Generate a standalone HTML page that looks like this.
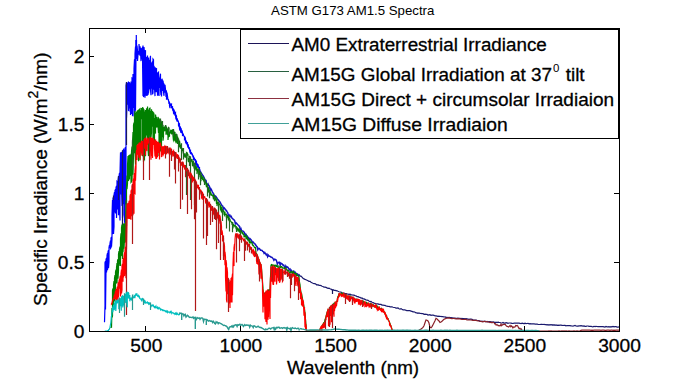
<!DOCTYPE html>
<html><head><meta charset="utf-8"><style>html,body{margin:0;padding:0;background:#fff;overflow:hidden}svg{display:block}</style></head><body><svg width="684" height="380" viewBox="0 0 684 380">
<rect x="0" y="0" width="684" height="380" fill="#fff"/>
<g fill="none" stroke-width="1.2" stroke-linejoin="miter">
<path d="M104.5,321.6 104.5,322.2 105,305.4 105,262.7 105.5,261.3 105.5,309.4 106,271.3 106,259.5 106.5,258 106.5,272.4 107,266 107,255.2 107.5,253.1 107.5,270.2 108,256.3 108,251.8 108.5,250.1 108.5,268.3 109,261.8 109,247.6 109.5,244.8 109.5,247.5 110,247.3 110,243.3 110.5,240.7 110.5,248.3 111,247.6 111,238.1 111.5,236.9 111.5,246.8 112,239.2 112,215.3 112.5,200.1 112.5,234.3 113,221 113,198.2 113.5,197.2 113.5,234 114,226.8 114,195.1 114.5,192.2 114.5,212.5 115,202.4 115,190.3 115.5,189.4 115.5,213.4 116,210.8 116,187.7 116.5,186 116.5,217.9 117,201.1 117,181.6 117.5,182.3 117.5,209.3 118,208 118,180.6 118.5,176.5 118.5,215.2 119,204.2 119,176.5 119.5,172.8 119.5,206.9 120,220.4 120,173.3 120.5,152.5 120.5,194.4 121,175.9 121,152.2 121.5,154.1 121.5,189 122,206 122,153.2 122.5,151.4 122.5,218 123,214.6 123,150.4 123.5,149.7 123.5,204.3 124,195.1 124,149.4 124.5,151.1 124.5,220.8 125,223.8 125,148.4 125.5,147.3 125.5,202.4 126,204.3 126,85.6 126.5,82.6 126.5,117.8 127,102.7 127,83 127.5,84.9 127.5,104.7 128,94 128,83 128.5,81.8 128.5,110.4 129,110.7 129,82.4 129.5,82.8 129.5,107.3 130,107.9 130,84.7 130.5,83.2 130.5,115 131,97.5 131,81.4 131.5,82.4 131.5,113.9 132,97.1 132,78 132.5,78.2 132.5,115.6 133,115.7 133,74.1 133.5,75.1 133.5,108.1 134,86.2 134,68.5 134.5,59.4 134.5,115.4 135,107.7 135,53.7 135.5,46.9 135.5,110.7 136,53 136,42.2 136.5,39.8 136.5,59 137,54 137,45.5 137.5,50.5 137.5,60.9 138,54.7 138,50.9 138.5,53 138.5,53.3 139,54.4 139,44.1 139.5,49.1 139.5,49.4 140,55.8 140,46.3 140.5,49.9 140.5,51.5 141,61.1 141,48 141.5,52.7 141.5,59 142,58.3 142,51 142.5,46.7 142.5,57.8 143,96 143,45.6 143.5,53.3 143.5,97.1 144,89.2 144,47.1 144.5,53.1 144.5,91.7 145,97.8 145,52.3 145.5,50.2 145.5,86.9 146,95.7 146,57 146.5,57.6 146.5,91.2 147,96 147,58.6 147.5,55.6 147.5,90.9 148,95.1 148,60.5 148.5,57.4 148.5,93.4 149,88.2 149,61.3 149.5,60 149.5,82.8 150,89.2 150,60.1 150.5,55.7 150.5,90 151,95.2 151,64 151.5,62.6 151.5,83.4 152,88.8 152,63.1 152.5,61.3 152.5,94.4 153,92.8 153,59 153.5,59.6 153.5,89.8 154,79.9 154,65.8 154.5,68.8 154.5,88 155,96.1 155,69.6 155.5,67.5 155.5,68.7 156,92.2 156,68.8 156.5,68.7 156.5,80.3 157,92.1 157,75.2 157.5,72.7 157.5,95.7 158,92.4 158,72.6 158.5,72.2 158.5,88.5 159,96 159,77.6 159.5,78.7 159.5,87.9 160,86.6 160,77.1 160.5,73.7 160.5,90.2 161,95.2 161,80 161.5,80.6 161.5,96.5 162,85 162,78.7 162.5,81.2 162.5,88 163,90.8 163,80.5 163.5,84.2 163.5,92.3 164,95.8 164,83.6 164.5,87.4 164.5,92.7 165,86.7 165,84.7 165.5,89.2 165.5,89.2 166,96.9 166,90.3 166.5,91.5 166.5,99.8 167,95.8 167,92.7 167.5,96.1 167.5,96.1 168,100.3 168,99 168.5,99.6 168.5,100 169,103.9 169,101.6 169.5,102.5 169.5,105.9 170,108.2 170,103.6 170.5,104.3 170.5,104.6 171,105.3 171,104.7 171.5,104.2 171.5,108.2 172,107 172,106.8 172.5,106.7 172.5,109.1 173,111 173,108.5 173.5,109.2 173.5,113.2 174,114.2 174,109.6 174.5,111.5 174.5,111.5 175,115.7 175,112.9 175.5,112.5 175.5,115.6 176,119.3 176,115 176.5,115.8 176.5,119 177,121.5 177,118.1 177.5,119.6 177.5,121.1 178,120.9 178,120.5 178.5,122 178.5,125.7 179,126.6 179,123.3 179.5,123.8 179.5,128.8 180,130.5 180,126.7 180.5,127.3 180.5,131 181,132.9 181,128.2 181.5,130.6 181.5,131.5 182,133.4 182,130.4 182.5,132.5 182.5,136.1 183,133.5 183,133.5 183.5,135.1 183.5,135.1 184,136.2 184,136.2 184.5,136.4 184.5,140.4 185,138 185,136.9 185.5,138.8 185.5,142.2 186,143.1 186,140.5 186.5,141.7 186.5,143.2 187,142.8 187,142.8 187.5,142.7 187.5,145.6 188,147.6 188,144.1 188.5,146 188.5,147.8 189,149.1 189,147.5 189.5,147.8 189.5,149.4 190,152.6 190,149.9 190.5,150 190.5,153.5 191,153.3 191,152.3 191.5,152.7 191.5,152.8 192,155.2 192,153.5 192.5,154.6 192.5,154.6 193,157.3 193,156.1 193.5,156.1 193.5,159.5 194,159.2 194,157.4 194.5,158.5 194.5,158.5 195,160.9 195,159.2 195.5,160.9 195.5,164.1 196,163.2 196,160.7 196.5,161.4 196.5,164 197,167.1 197,163.7 197.5,164.1 197.5,165.4 198,168 198,164.5 198.5,166.8 198.5,166.8 199,167.6 199,167.6 199.5,167.5 199.5,168.9 200,170.5 200,169.4M136.3,50V35M135.8,50V40" stroke="#0000ff"/>
<path d="M199,169.2 199.7,170.7 200.4,171.4 201.1,173 201.8,173.9 202.5,174.9 203.2,175.8 203.9,177.2 204.6,179 205.3,180.1 206,180.4 206.7,184.9 207.4,185.6 208.1,184 208.8,185.5 209.5,186.6 210.2,190.2 210.9,188.8 211.6,190 212.3,191.9 213,192.8 213.7,195.2 214.4,197.6 215.1,195.9 215.8,196.3 216.5,197.3 217.2,198.5 217.9,199.6 218.6,200.3 219.3,201.3 220,202 220.7,203.3 221.4,204.9 222.1,205.6 222.8,206.1 223.5,208.9 224.2,208 224.9,208.8 225.6,209.9 226.3,210.3 227,211.7 227.7,212.5 228.4,215.5 229.1,216 229.8,215 230.5,216.7 231.2,216.3 231.9,218.1 232.6,218.6 233.3,219.4 234,219.8 234.7,220.9 235.4,223.8 236.1,222.9 236.8,223.6 237.5,224.5 238.2,225 238.9,225.9 239.6,226.5 240.3,230.1 241,228.8 241.7,230.9 242.4,230.9 243.1,231.2 243.8,231.7 244.5,232.7 245.2,235.6 245.9,234.5 246.6,235.7 247.3,236 248,239.1 248.7,238 249.4,240 250.1,238.7 250.8,239.5 251.5,240.3 252.2,242.3 252.9,241.9 253.6,242.6 254.3,243.6 255,243.9 255.7,245 256.4,246.2 257.1,246.7 257.8,249.7 258.5,248.4 259.2,248.5 259.9,249.2 260.6,250.2 261.3,250.3 262,250.4 262.7,251.3 263.4,251.7 264.1,253.3 264.8,252.5 265.5,253.6 266.2,254.8 266.9,254.2 267.6,256.6 268.3,255.1 269,256 269.7,256.2 270.4,256.7 271.1,257.2 271.8,257.2 272.5,257.9 273.2,258.8 273.9,260.3 274.6,259.2 275.3,259.5 276,259.9 276.7,261.2 277.4,264.1 278.1,262.9 278.8,262.3 279.5,262.3 280.2,265.4 280.9,263.1 281.6,263.6 282.3,264.1 283,265.2 283.7,265.1 284.4,266.6 285.1,268.7 285.8,266.1 286.5,267.4 287.2,266.9 287.9,267.4 288.6,268.5 289.3,269.7 290,269.1 290.7,271.8 291.4,270.4 292.1,271.3 292.8,273.4 293.5,271.8 294.2,274 294.9,271.9 295.6,273 296.3,275.4 297,273.8 297.7,274.1 298.4,275.5 299.1,274.9 299.8,276.2" stroke="#1414c0" stroke-width="1.5"/>
<path d="M300,276.1 301,276.2 302,277.1 303,278.2 304,278.9 305,279.4 306,279.7 307,280.2 308,280.7 309,281.3 310,281.4 311,282.2 312,282.8 313,283.3 314,283.6 315,283.7 316,284.2 317,285 318,284.7 319,285.4 320,285.3 321,285.6 322,286.3 323,286.5 324,287.2 325,287.1 326,287.4 327,287.9 328,288.3 329,288.2 330,288.7 331,289.1 332,289.8 333,289.7 334,290.3 335,290.4 336,290.6 337,290.8 338,291.3 339,291.7 340,292 341,292.1 342,292.8 343,293 344,293 345,293.6 346,293.5 347,293.9 348,294.2 349,294.3 350,294.2 351,294.8 352,294.8 353,295.2 354,295.2 355,295.6 356,295.8 357,296.6 358,296.6 359,297.1 360,297.4 361,298.2 362,298 363,298.9 364,298.9 365,299.4 366,300 367,300.1 368,300.4 369,301.1 370,301.7 371,301.5 372,302.2 373,302.5 374,303.1 375,303.4 376,303.8 377,303.8 378,303.9 379,304.4 380,304.3 381,304.4 382,305.1 383,305 384,305.3 385,305.4 386,306 387,306.1 388,306.5 389,306.3 390,306.8 391,306.9 392,306.8 393,307.2 394,307.5 395,307.5 396,308.2 397,308.2 398,308 399,308.7 400,309 401,308.7 402,309.3 403,309.8 404,309.8 405,309.8 406,310.4 407,310.6 408,310.7 409,310.6 410,310.7 411,311.2 412,311.4 413,311.8 414,311.8 415,312.3 416,312.8 417,312.9 418,313.4 419,313 420,313.5 421,313.4 422,313.7 423,313.6 424,314.3 425,314.2 426,314.4 427,314.4 428,315 429,314.8 430,314.7 431,315.4 432,315.2 433,315.1 434,315.3 435,315.9 436,315.9 437,316.1 438,316.4 439,316.1 440,316.5 441,316.4 442,316.7 443,316.7 444,317 445,316.9 446,317.4 447,317.4 448,317.5 449,317.4 450,317.6 451,317.7 452,317.9 453,317.9 454,318.2 455,318.2 456,318.4 457,318.4 458,318.1 459,318.3 460,318.3 461,318.5 462,318.4 463,318.7 464,318.5 465,318.9 466,318.7 467,318.9 468,319.1 469,319.3 470,319.1 471,319.2 472,319.3 473,319.8 474,320.1 475,320.1 476,320.1 477,320.4 478,320.5 479,320.6 480,321.3 481,321.4 482,321.2 483,321.6 484,321.3 485,321.1 486,321.8 487,321.5 488,321.9 489,321.6 490,321.6 491,321.8 492,322 493,321.8 494,322.1 495,322.5 496,322.2 497,322.6 498,322.2 499,322.4 500,322.5 501,323 502,323 503,322.5 504,323.1 505,323.2 506,322.6 507,322.9 508,323.3 509,323 510,323 511,323.1 512,323.3 513,323.5 514,323.2 515,323.2 516,323 517,323.1 518,323.2 519,323.2 520,323.3 521,323.7 522,323.2 523,323.3 524,323.8 525,323.2 526,323.6 527,323.5 528,323.3 529,323.8 530,323.7 531,323.8 532,323.9 533,323.8 534,323.8 535,324.1 536,324.2 537,324 538,324.3 539,324.5 540,324.5 541,324.3 542,324.4 543,324.5 544,324.3 545,324.6 546,324.6 547,324.9 548,324.6 549,325 550,324.7 551,324.8 552,324.7 553,325.3 554,324.7 555,325.3 556,325 557,325.3 558,325.1 559,325.4 560,325.2 561,325.2 562,325.3 563,325.5 564,325.3 565,325.4 566,325.8 567,325.5 568,325.6 569,325.7 570,325.6 571,325.8 572,326 573,326.1 574,325.8 575,325.5 576,326 577,326.1 578,326.1 579,325.9 580,325.9 581,325.7 582,325.9 583,326.1 584,325.9 585,326.4 586,326.4 587,326 588,326 589,326.4 590,326.3 591,326.3 592,326.6 593,326.8 594,326.3 595,326.6 596,326.4 597,326.5 598,326.7 599,326.7 600,326.5 601,326.6 602,326.6 603,326.6 604,326.8 605,327 606,326.5 607,326.8 608,326.8 609,326.7 610,327 611,326.6 612,326.8 613,326.5 614,326.8 615,326.6 616,326.5 617,327.1 618,327.1 619,326.9" stroke="#1a1a6e"/>
<path d="M122.5,150.3V226M126.5,82V145M113.5,195.4V200M118.5,176V200M332.5,289.9V294" stroke="#181860"/>
<path d="M111,326.8 111,327.3 111.5,327.2 111.5,327.2 112,308 112,317.5 112.5,315.8 112.5,290.4 113,288.3 113,309.2 113.5,306.2 113.5,285 114,281.2 114,299.2 114.5,301.4 114.5,278.2 115,275.1 115,296.6 115.5,291.3 115.5,272.1 116,269.5 116,284 116.5,270.2 116.5,267.8 117,263.1 117,283 117.5,268.2 117.5,260.9 118,259.3 118,278.8 118.5,270.4 118.5,254.1 119,251.2 119,266 119.5,260 119.5,249.3 120,246.5 120,252.8 120.5,266 120.5,239 121,233.3 121,256.2 121.5,254.3 121.5,227.7 122,224.7 122,233.3 122.5,259 122.5,225.6 123,226.4 123,252.3 123.5,244.7 123.5,224.7 124,225.6 124,248.7 124.5,239 124.5,224.2 125,224.7 125,242.7 125.5,240.9 125.5,226 126,200 126,237 126.5,210.6 126.5,188.4 127,175.4 127,189.2 127.5,183.7 127.5,165.5 128,156.1 128,179.1 128.5,181 128.5,156.1 129,155.7 129,172.9 129.5,179.4 129.5,156.2 130,155.4 130,176.1 130.5,172.1 130.5,155.5 131,156.1 131,182.4 131.5,181.8 131.5,151.7 132,146.5 132,180.9 132.5,161 132.5,142.6 133,132 133,174.7 133.5,153.8 133.5,125.3 134,122.6 134,153.2 134.5,119.6 134.5,116.5 135,111.1 135,149.6 135.5,164.8 135.5,117.5 136,113.1 136,113.1 136.5,152.9 136.5,111.5 137,115 137,144.4 137.5,137.7 137.5,110.2 138,111.4 138,143 138.5,161.2 138.5,109.6 139,114 139,116.1 139.5,156.5 139.5,109.2 140,108.8 140,160.6 140.5,145.3 140.5,110.2 141,111.4 141,117.3 141.5,119.1 141.5,108.1 142,110.9 142,144.4 142.5,156.2 142.5,107.2 143,108.9 143,117.7 143.5,162 143.5,109 144,109.9 144,139.2 144.5,160.6 144.5,112.8 145,111.4 145,126.5 145.5,156.3 145.5,110 146,111.6 146,135.6 146.5,123.1 146.5,108.3 147,111.1 147,134.1 147.5,143.1 147.5,106.6 148,112.5 148,148.6 148.5,156.1 148.5,112.4 149,109.5 149,147.7 149.5,109.3 149.5,108.4 150,108.2 150,118.7 150.5,141 150.5,113.4 151,111 151,137.2 151.5,132.5 151.5,109.2 152,113.7 152,125.4 152.5,126.6 152.5,111.3 153,112.5 153,142.3 153.5,114.2 153.5,112.3 154,114 154,143.4 154.5,141.7 154.5,117.9 155,120.1 155,127.5 155.5,133.6 155.5,114.5 156,117.2 156,120.5 156.5,127.6 156.5,119.3 157,116.9 157,127.4 157.5,122.4 157.5,122.4 158,118.5 158,126.2 158.5,133 158.5,118 159,118.6 159,156.1 159.5,145.5 159.5,120.8 160,119.2 160,135.3 160.5,151.5 160.5,122.5 161,120.6 161,134.8 161.5,149.1 161.5,125.4 162,121.6 162,137.3 162.5,132.3 162.5,125.7 163,125.6 163,140.7 163.5,136.8 163.5,128.6 164,126.8 164,131 164.5,130.3 164.5,127.7 165,126.6 165,131.3 165.5,126.8 165.5,125.9 166,126 166,134.8 166.5,126.7 166.5,126.7 167,130.9 167,130.9 167.5,135.3 167.5,132.2 168,128.4 168,140 168.5,132.3 168.5,132.3 169,127.4 169,136.5 169.5,136.1 169.5,132.3 170,132.1 170,133.3 170.5,131.3 170.5,131 171,129.8 171,133.2 171.5,133.6 171.5,129.9 172,133.1 172,133.1 172.5,132 172.5,129.3 173,135 173,136 173.5,140.6 173.5,129.6 174,135.2 174,140.5 174.5,139.6 174.5,132.1 175,132.3 175,132.6 175.5,141.8 175.5,137.2 176,133.9 176,143.2 176.5,137.6 176.5,134.1 177,135.1 177,137 177.5,144 177.5,136.7 178,138.4 178,139.2 178.5,141.4 178.5,138.8 179,144.3 179,145.5 179.5,147.1 179.5,140.5 180,144 180,145.7 180.5,148.6 180.5,144.9 181,147.9 181,148.1 181.5,148.6 181.5,147.7 182,148.7 182,148.8 182.5,150.9 182.5,148.3 183,151.3 183,151.3 183.5,153.9 183.5,153.9 184,154.4 184,155.1 184.5,156.1 184.5,156.1 185,153.2 185,154.4 185.5,157.7 185.5,154.9 186,157.1 186,157.1 186.5,153.6 186.5,152.9 187,153.5 187,153.7 187.5,155.7 187.5,153.7 188,154.6 188,159.5 188.5,162.2 188.5,158 189,161 189,161 189.5,161.4 189.5,161.4 190,157.1 190,163.3 190.5,159 190.5,159 191,161.3 191,161.3 191.5,160.3 191.5,160.3 192,159.1 192,159.1 192.5,166 192.5,161.7 193,164.8 193,165.5 193.5,165.1 193.5,165.1 194,162.4 194,168.4 194.5,167.3 194.5,164.6 195,163.1 195,164.8 195.5,169.5 195.5,165.6 196,168 196,170.5 196.5,168.5 196.5,166.5 197,169.6 197,174.1 197.5,168.7 197.5,168.7 198,170 198,172.2 198.5,170.7 198.5,169.8 199,170.6 199,174.5 199.5,174.8 199.5,170.7 200,174.2 200,177.3 200.5,175.5 200.5,172.7 201,173.2 201,178.9 201.5,175.5 201.5,175.5 202,176.1 202,179.4 202.5,178.5 202.5,177 203,177 203,179.2 203.5,180.2 203.5,180.2 204,179.3 204,181.6 204.5,182 204.5,179.2 205,180.2 205,182.2 205.5,183.3 205.5,181.4 206,184.1 206,184.1 206.5,187.3 206.5,183 207,184 207,187 207.5,185.9 207.5,185.9 208,187.3 208,187.3 208.5,191.9 208.5,187.4 209,191.1 209,192 209.5,191.8 209.5,189.9 210,191.5 210,194.7 210.5,192.4 210.5,191.9 211,193.5 211,195.1 211.5,195 211.5,193.8 212,195.5 212,195.5 212.5,195.9 212.5,195.9 213,194.9 213,196.1 213.5,199.3 213.5,196.2 214,195.3 214,198.5 214.5,198.9 214.5,197.2 215,197.4 215,200.4 215.5,199.1 215.5,198.1 216,197.9 216,197.9 216.5,204 216.5,200.4 217,199.9 217,206.1 217.5,202.3 217.5,202.3 218,202.9 218,203.8 218.5,203.6 218.5,202.4 219,203.5 219,203.5 219.5,204.4 219.5,203.7 220,205.1 220,205.5 220.5,210.5 220.5,205.4 221,206.7 221,209 221.5,212.3 221.5,208 222,207.6 222,208.8 222.5,213.4 222.5,210.1 223,211.1 223,211.8 223.5,210.6 223.5,210.2 224,212.4 224,214.3 224.5,215.1 224.5,212.1 225,212.1 225,214.4 225.5,214.4 225.5,214.4 226,214.3 226,214.3 226.5,217.7 226.5,215.5 227,215.7 227,216.4 227.5,217.3 227.5,215.1 228,216.3 228,217.5 228.5,220.4 228.5,216.5 229,218.1 229,219.5 229.5,221.5 229.5,219.6 230,219.5 230,220.6 230.5,220.9 230.5,220.9 231,221.8 231,221.8 231.5,222.5 231.5,222.1 232,222.4 232,224.7 232.5,223.3 232.5,222.2 233,224.2 233,225.1 233.5,225.8 233.5,224.2 234,225.2 234,226.7 234.5,225.8 234.5,225.8 235,225.6 235,225.6 235.5,225.7 235.5,225.7 236,228.1 236,228.1 236.5,227.5 236.5,227.5 237,228.9 237,228.9 237.5,230.4 237.5,227.5 238,229.4 238,231.6 238.5,229.8 238.5,228.5 239,229.9 239,229.9 239.5,232 239.5,230.1 240,231 240,232.9 240.5,231.5 240.5,231.5 241,232 241,232.3 241.5,231.3 241.5,231.3 242,232.7 242,233 242.5,234 242.5,232.2 243,233.2 243,233.8 243.5,235.1 243.5,234 244,234.4 244,237.4 244.5,235.7 244.5,235.7 245,236.1 245,236.1 245.5,236.7 245.5,236.7 246,235.8 246,239 246.5,238.7 246.5,237.1 247,236.8 247,237 247.5,239 247.5,239 248,238 248,239.3 248.5,240.6 248.5,239.9 249,240.9 249,241.5 249.5,242.4 249.5,240.3 250,240.7 250,240.7 250.5,243.3 250.5,242.7 251,242.6 251,242.7 251.5,242.6 251.5,242.3 252,242.7 252,242.9 252.5,245.3 252.5,244 253,245.6 253,245.6 253.5,245.6 253.5,245.6 254,246.5 254,246.5 254.5,247.6 254.5,247.6 255,247.5 255,247.5 255.5,247.7 255.5,247.1 256,253.3 256,253.3 256.5,253.9 256.5,253.5 257,254.6 257,255.3 257.5,257.1 257.5,256.1 258,258 258,258 258.5,258.8 258.5,258.8 259,259.6 259,260.8 259.5,262.3 259.5,262.3 260,262.9 260,262.9 260.5,263.9 260.5,263.9 261,264.8 261,265.2 261.5,268.1 261.5,267.9 262,275.6 262,275.6 262.5,282.6 262.5,282.6 263,287.7 263,289 263.5,292.8 263.5,292.7 264,292.9 264,292.9 264.5,294 264.5,294 265,294.2 265,294.2 265.5,293.1 265.5,292.6 266,292.2 266,293.1 266.5,291.8 266.5,291.8 267,291.3 267,291.5 267.5,292.4 267.5,292.4 268,291.4 268,291.4 268.5,291.3 268.5,290 269,289.8 269,289.9 269.5,290.6 269.5,289.9 270,289.1 270,289.1 270.5,276.7 270.5,276.7 271,265.2 271,265.2 271.5,264.5 271.5,264.5 272,264.8 272,265.6 272.5,265.8 272.5,265.8 273,264.6 273,264.8 273.5,265.8 273.5,265 274,266.3 274,266.3 274.5,266.3 274.5,265.3 275,265.1 275,265.1 275.5,266.5 275.5,265.4 276,265.5 276,266.3 276.5,266.4 276.5,265.5 277,265.7 277,266.4 277.5,266.9 277.5,266.8 278,266.3 278,267.2 278.5,267.3 278.5,266.4 279,267.5 279,267.5 279.5,266.5 279.5,266.2 280,267.2 280,267.5 280.5,267.5 280.5,266.6 281,267 281,267 281.5,266.6 281.5,266.6 282,266.9 282,268 282.5,268 282.5,267.7 283,268.3 283,268.3 283.5,268 283.5,268 284,268.1 284,268.1 284.5,268.6 284.5,268.6 285,267.9 285,268.3 285.5,268.7 285.5,268.6 286,268.4 286,268.4 286.5,269.6 286.5,269.6 287,270.3 287,270.3 287.5,270 287.5,270 288,271 288,271 288.5,270.6 288.5,270.6 289,271.1 289,271.9 289.5,273.1 289.5,273.1 290,272.2 290,272.2 290.5,272.1 290.5,271.9 291,271.7 291,272.2 291.5,271.9 291.5,271.9 292,271.7 292,273 292.5,273.1 292.5,272.6 293,272.8 293,272.8 293.5,271.8 293.5,271.8 294,273.3 294,273.3 294.5,273.2 294.5,273.2 295,273.8 295,273.8 295.5,273.4 295.5,273.1 296,274.9 296,274.9 296.5,274 296.5,274 297,275.4 297,275.4 297.5,275.3 297.5,275.3 298,275.3 298,275.9 298.5,276.1 298.5,276.1 299,276.1 299,276.7 299.5,282.1 299.5,282.1 300,284.7 300,284.7 300.5,290.1 300.5,289.9 301,292 301,292.5 301.5,293.9 301.5,293.4 302,295.9 302,295.9 302.5,298.8 302.5,298.8 303,301.2 303,301.2 303.5,303.8 303.5,303.8 304,306.6 304,306.8 304.5,309.3 304.5,309.3 305,312.7 305,312.7 305.5,319.2 305.5,319.2 306,324.9 306,324.9 306.5,331 306.5,331 307,331 307,331 307.5,331 307.5,331 308,331 308,331 308.5,331 308.5,331 309,331 309,331 309.5,331 309.5,331 310,331 310,331 310.5,331 310.5,331 311,331 311,331 311.5,331 311.5,331 312,331 312,331 312.5,331 312.5,331 313,331 313,331 313.5,331 313.5,331 314,331 314,331 314.5,331 314.5,331 315,331 315,331 315.5,331 315.5,331 316,331 316,331 316.5,331 316.5,331 317,331 317,331 317.5,331 317.5,331 318,331 318,331 318.5,331 318.5,331 319,330.8 319,331 319.5,331 319.5,329.8 320,329 320,329.5 320.5,328.8 320.5,328.8 321,327.7 321,328.4 321.5,326.8 321.5,326.8 322,325.5 322,326.9 322.5,325.7 322.5,324.7 323,324.6 323,324.6 323.5,324 323.5,323.6 324,322.3 324,322.5 324.5,322.2 324.5,322.2 325,319.7 325,319.8 325.5,318.6 325.5,318.4 326,316.6 326,316.6 326.5,314.4 326.5,314.4 327,312.7 327,312.7 327.5,311.2 327.5,311.2 328,309.5 328,310 328.5,309.9 328.5,309.9 329,309 329,309 329.5,307.9 329.5,307.7 330,307.4 330,307.4 330.5,307.5 330.5,307.5 331,305.6 331,306 331.5,306.2 331.5,305.8 332,305.9 332,305.9 332.5,305.8 332.5,305.8 333,304.7 333,305.1 333.5,304.1 333.5,304.1 334,303.4 334,304.8 334.5,304.2 334.5,304.2 335,303.2 335,303.2 335.5,302.9 335.5,302.9 336,302.5 336,302.5 336.5,301.9 336.5,301.7 337,301.3 337,301.3 337.5,299.4 337.5,298.3 338,296.5 338,296.9 338.5,295.5 338.5,295 339,293.6 339,294.2 339.5,294.7 339.5,293.8 340,293.8 340,294.7 340.5,294.3 340.5,294.3 341,294.2 341,294.2 341.5,293.6 341.5,293.2 342,293.3 342,294.5 342.5,293.9 342.5,293.8 343,294.5 343,295.1 343.5,294.9 343.5,293.9 344,294.2 344,295.2 344.5,295.4 344.5,295.1 345,295.1 345,295.1 345.5,295.7 345.5,295.7 346,295.5 346,296.3 346.5,295.7 346.5,295.3 347,296 347,296.2 347.5,296 347.5,295.7 348,296.8 348,296.8 348.5,296.8 348.5,296 349,297.1 349,297.1 349.5,297.4 349.5,297.4 350,296.7 350,297.7 350.5,296.8 350.5,296.8 351,296.9 351,298.1 351.5,298.1 351.5,298.1 352,298.1 352,298.1 352.5,298.2 352.5,298.2 353,298.3 353,298.8 353.5,298.8 353.5,298.4 354,298.2 354,298.8 354.5,299.2 354.5,299.2 355,299.4 355,299.4 355.5,299.8 355.5,299.7 356,299.2 356,300.1 356.5,300.1 356.5,300.1 357,300.2 357,300.2 357.5,300.2 357.5,300.2 358,300.2 358,300.2 358.5,301.1 358.5,301.1 359,300.9 359,301 359.5,300.9 359.5,300.9 360,301.3 360,301.3 360.5,301.5 360.5,301.1 361,301 361,301.9 361.5,302 361.5,302 362,301.3 362,302.7 362.5,302.1 362.5,302.1 363,301.6 363,302.4 363.5,303 363.5,301.8 364,302.6 364,302.6 364.5,302.4 364.5,302.4 365,302.3 365,302.9 365.5,303.4 365.5,303.4 366,303.6 366,303.6 366.5,303.8 366.5,302.6 367,303.1 367,303.1 367.5,303.8 367.5,303.3 368,303.2 368,303.2 368.5,304.1 368.5,303.8 369,303.9 369,303.9 369.5,304.5 369.5,304.5 370,304.2 370,304.9 370.5,304.5 370.5,303.8 371,304.3 371,304.9 371.5,304.4 371.5,304.2 372,304.4 372,305 372.5,305.7 372.5,304.6 373,305.6 373,305.6 373.5,305.9 373.5,305 374,305.4 374,306 374.5,306.1 374.5,306.1 375,306 375,306.4 375.5,305.8 375.5,305.6 376,305.4 376,306.7 376.5,305.7 376.5,305.7 377,305.8 377,306.6 377.5,307.4 377.5,306.9 378,307.1 378,307.1 378.5,308 378.5,307.8 379,307.9 379,308.3 379.5,308.3 379.5,308.3 380,308.5 380,308.5 380.5,309.1 380.5,309.1 381,308.6 381,309.1 381.5,309 381.5,309 382,309.3 382,309.3 382.5,309.8 382.5,309.8 383,309.7 383,310.4 383.5,310.4 383.5,310.4 384,311.3 384,312.3 384.5,312.9 384.5,312.3 385,313 385,314.1 385.5,314.8 385.5,314.1 386,315.1 386,315.7 386.5,316.8 386.5,315.7 387,317.5 387,317.6 387.5,318.2 387.5,318.2 388,318.4 388,319.4 388.5,320.1 388.5,320.1 389,321 389,321 389.5,322.3 389.5,322.3 390,323.5 390,323.5 390.5,325 390.5,325 391,325.9 391,326.8 391.5,327.5 391.5,327.5 392,329.4 392,329.4 392.5,330.6 392.5,329.9 393,331 393,331 393.5,331 393.5,331 394,331 394,331" stroke="#008000"/>
<path d="M126.5,200V226M132.5,140V170M186.5,153V195M190.5,156.3V200M194.5,162.9V205M181.5,143.2V160M160.5,118.6V123.5M162.5,120.9V126.7M165.5,125.1V129.2M168.5,126.8V133.8M173.5,129V136M176.5,133.7V140.4M178.5,138.4V152.3M183.5,148.1V159.5M186.5,152.8V160.3M189.5,155.8V166.1M193.5,160.5V166.6M198.5,168.2V179.5M200.5,172.6V185.3M204.5,179.4V184.9M207.5,184.7V196.6M209.5,190.7V198.2M214.5,195.7V201.3M218.5,201.5V215.8M222.5,208.7V221.1M226.5,213.7V228.5M229.5,217.5V231.4M232.5,221.9V232.3M236.5,226.3V232.1M240.5,230V239.7" stroke="#246424"/>
<path d="M111.5,303.3 111.5,304 112,303.5 112,302.9 112.5,300.5 112.5,301 113,299.9 113,299 113.5,298.8 113.5,298.8 114,297.4 114,296.7 114.5,294.6 114.5,298.1 115,299.1 115,294.3 115.5,291 115.5,294.3 116,301.3 116,289.6 116.5,289.5 116.5,300 117,298.6 117,288 117.5,286.8 117.5,299 118,299.7 118,283.4 118.5,282.4 118.5,297.3 119,289.6 119,281 119.5,278.9 119.5,288.6 120,279.7 120,277.2 120.5,275.8 120.5,296.4 121,292.5 121,273.6 121.5,269.6 121.5,293.4 122,290 122,265.9 122.5,263.9 122.5,269.8 123,281.7 123,260.6 123.5,258 123.5,277.5 124,273 124,256.2 124.5,252.3 124.5,275.9 125,261.4 125,249.8 125.5,246.9 125.5,266.3 126,278.3 126,237.6 126.5,213.7 126.5,249.4 127,219.6 127,205.9 127.5,203.3 127.5,210.9 128,218.8 128,204.3 128.5,202.9 128.5,210.3 129,218.9 129,201.2 129.5,200.8 129.5,218.2 130,218.5 130,196.2 130.5,194.1 130.5,216.7 131,219.7 131,191 131.5,189.6 131.5,216.1 132,214 132,186 132.5,184.4 132.5,213 133,215.3 133,181.3 133.5,178.7 133.5,203.8 134,213.7 134,175.8 134.5,173.2 134.5,192.8 135,193.4 135,170.6 135.5,165.4 135.5,180.7 136,168.1 136,156.5 136.5,150 136.5,151.9 137,160 137,145.6 137.5,145.3 137.5,150.7 138,154.7 138,145.2 138.5,143.8 138.5,152.6 139,157.7 139,144.3 139.5,142.4 139.5,149.6 140,159.6 140,143.7 140.5,143.5 140.5,151.5 141,148.1 141,143.9 141.5,140.8 141.5,151.7 142,155.7 142,144.7 142.5,140.9 142.5,154.7 143,146.4 143,143.6 143.5,141.8 143.5,148.2 144,146.5 144,139.8 144.5,139.3 144.5,147.7 145,148.4 145,138.4 145.5,138.2 145.5,155.5 146,140.2 146,140.2 146.5,140.8 146.5,143 147,151.1 147,138.9 147.5,137.8 147.5,144.9 148,141.2 148,138.4 148.5,140.8 148.5,140.8 149,143.4 149,140.7 149.5,138.1 149.5,147.4 150,141.2 150,137.2 150.5,138.5 150.5,148.6 151,159.8 151,141.3 151.5,137.5 151.5,150.7 152,156.2 152,138 152.5,139 152.5,158 153,141.8 153,140.3 153.5,138.4 153.5,144.9 154,142.8 154,142.5 154.5,140.7 154.5,147.9 155,156.4 155,140.3 155.5,140 155.5,154.9 156,158.9 156,142.3 156.5,141.8 156.5,158.6 157,152.4 157,141.8 157.5,143.1 157.5,157.3 158,145 158,145 158.5,141.8 158.5,152.2 159,152.3 159,145.3 159.5,143.3 159.5,159.4 160,144.7 160,143.7 160.5,143.3 160.5,143.9 161,146.5 161,146.5 161.5,146.9 161.5,157 162,156 162,148.8 162.5,146.3 162.5,153.5 163,154.4 163,148.7 163.5,146.4 163.5,154.7 164,149.5 164,145.9 164.5,150 164.5,151.1 165,154 165,146.6 165.5,147.4 165.5,147.4 166,148.6 166,146 166.5,147.1 166.5,154.3 167,153.2 167,146.8 167.5,149.7 167.5,149.7 168,152.6 168,150.8 168.5,148.6 168.5,149 169,154.3 169,148.8 169.5,149.5 169.5,149.5 170,151.7 170,149.2 170.5,148.9 170.5,152.8 171,155.1 171,148.8 171.5,149.5 171.5,149.9 172,151.8 172,151.5 172.5,153.4 172.5,153.6 173,156.6 173,152 173.5,151.1 173.5,156.2 174,154.2 174,153.2 174.5,155.2 174.5,155.2 175,155 175,155 175.5,155.2 175.5,155.2 176,156.1 176,152.4 176.5,156.6 176.5,156.6 177,158.2 177,155.2 177.5,154.9 177.5,158.3 178,158.3 178,154.9 178.5,158.4 178.5,158.4 179,156.8 179,156.8 179.5,159.5 179.5,160.2 180,163.2 180,161.2 180.5,158.5 180.5,165.2 181,165.1 181,162.6 181.5,162.7 181.5,164.8 182,165.3 182,162.9 182.5,162.9 182.5,162.9 183,167.1 183,161.9 183.5,164.3 183.5,164.3 184,167.6 184,165.2 184.5,165.4 184.5,169.6 185,167.8 185,167.8 185.5,168.2 185.5,169 186,169.1 186,167.9 186.5,170.3 186.5,170.3 187,171.1 187,171.1 187.5,170.5 187.5,175.1 188,171.7 188,171.3 188.5,169.8 188.5,173.3 189,176.5 189,171.6 189.5,174 189.5,178.5 190,175 190,173.2 190.5,174.5 190.5,178.2 191,175 191,173.5 191.5,174.4 191.5,176.5 192,182 192,175.7 192.5,176.1 192.5,182.4 193,177.8 193,177.2 193.5,180.9 193.5,180.9 194,178.8 194,178.1 194.5,178.8 194.5,181.3 195,180.5 195,179.9 195.5,180.2 195.5,184.9 196,182.5 196,181 196.5,183.5 196.5,187.5 197,187.1 197,184.7 197.5,185.6 197.5,188.3 198,187.1 198,187.1 198.5,184.8 198.5,188.6 199,189.4 199,187.4 199.5,189.7 199.5,189.7 200,191.4 200,190.4 200.5,190.1 200.5,190.8 201,194.3 201,190.4 201.5,192.2 201.5,197.8 202,197.1 202,192 202.5,192.3 202.5,197.4 203,199.9 203,193.3 203.5,197.4 203.5,197.4 204,197.5 204,197.5 204.5,196.2 204.5,196.3 205,197.6 205,197.6 205.5,199.5 205.5,201.8 206,203.7 206,199.1 206.5,199.3 206.5,201.5 207,200.6 207,200.6 207.5,203.6 207.5,203.6 208,207.8 208,201.4 208.5,204.8 208.5,205.6 209,203.6 209,203.6 209.5,202.9 209.5,207.3 210,204.7 210,204 210.5,207.2 210.5,207.2 211,211 211,205.4 211.5,207.5 211.5,207.5 212,210.5 212,207.9 212.5,207.9 212.5,214.5 213,211.9 213,209.2 213.5,209.5 213.5,211.5 214,215.1 214,209.1 214.5,209.9 214.5,211.5 215,216 215,208.4 215.5,209.8 215.5,213.1 216,214.9 216,210.1 216.5,211 216.5,218.2 217,216 217,212.3 217.5,213.6 217.5,215.4 218,219.1 218,213 218.5,214.5 218.5,220.5 219,220.8 219,216.2 219.5,215.7 219.5,217.7 220,223.7 220,215.6 220.5,219.6 220.5,234.5 221,229.3 221,221.3 221.5,226.8 221.5,234.9 222,232.2 222,230.4 222.5,233.2 222.5,241.5 223,236 223,235.5 223.5,238 223.5,256.3 224,255.2 224,242.4 224.5,246 224.5,246.8 225,265.3 225,251.8 225.5,256.7 225.5,276.7 226,291.6 226,260.2 226.5,263.7 226.5,299.7 227,302.4 227,267.3 227.5,272.7 227.5,289.1 228,294.1 228,277.9 228.5,279.8 228.5,281.7 229,303.4 229,284.7 229.5,281.7 229.5,286.4 230,308 230,281.4 230.5,282.3 230.5,294.8 231,302.5 231,278.5 231.5,278 231.5,298.8 232,302.5 232,278.2 232.5,273.9 232.5,295.2 233,264.1 233,264.1 233.5,251.7 233.5,259.4 234,266.1 234,248 234.5,243.7 234.5,250.6 235,240.7 235,239.3 235.5,234.6 235.5,234.6 236,235.6 236,235.6 236.5,234.9 236.5,234.9 237,235 237,235 237.5,233.4 237.5,236.9 238,237.7 238,235.7 238.5,235.5 238.5,238.2 239,236.6 239,233.8 239.5,235.9 239.5,235.9 240,235.6 240,234.8 240.5,236.5 240.5,238.5 241,237.9 241,237.7 241.5,236.1 241.5,238.9 242,238 242,238 242.5,238.9 242.5,238.9 243,239 243,238.3 243.5,240.4 243.5,240.4 244,239.7 244,239.7 244.5,241.1 244.5,241.3 245,241.5 245,240.1 245.5,241.4 245.5,241.4 246,242.2 246,241.3 246.5,243.8 246.5,243.8 247,244.2 247,241.8 247.5,244 247.5,244 248,244.4 248,243.4 248.5,245.6 248.5,245.6 249,247.1 249,244.3 249.5,245.8 249.5,245.8 250,248.1 250,248.1 250.5,246.6 250.5,248.1 251,249.8 251,248.3 251.5,247.2 251.5,249.1 252,250.3 252,250.3 252.5,250.2 252.5,250.4 253,254.3 253,250.8 253.5,250 253.5,254 254,256.2 254,250.6 254.5,252.8 254.5,257.1 255,256 255,253.8 255.5,254.8 255.5,254.8 256,253.8 256,253.8 256.5,254.4 256.5,260.6 257,264 257,254.5 257.5,256.2 257.5,257.7 258,264.6 258,256.7 258.5,258.5 258.5,258.5 259,274.6 259,259.5 259.5,261.3 259.5,272.5 260,262.7 260,262.4 260.5,264.4 260.5,267.2 261,278.7 261,264 261.5,269.3 261.5,269.3 262,277 262,277 262.5,280.7 262.5,290.9 263,312.6 263,289.6 263.5,293.5 263.5,306.6 264,296.2 264,294.5 264.5,295 264.5,295 265,319.3 265,292.3 265.5,294.1 265.5,315.8 266,321.9 266,291.8 266.5,292.4 266.5,298.1 267,324.6 267,290.7 267.5,290.2 267.5,297.6 268,319.7 268,290.7 268.5,292.2 268.5,317.3 269,291 269,291 269.5,291 269.5,294.8 270,319.1 270,291.6 270.5,277.3 270.5,298 271,272.8 271,266.6 271.5,269.1 271.5,279.9 272,281.5 272,267 272.5,266.5 272.5,279.4 273,284.8 273,268.5 273.5,266.9 273.5,284.9 274,275.4 274,266.9 274.5,267.7 274.5,274.5 275,281.8 275,267.2 275.5,268.2 275.5,275 276,273.5 276,268.7 276.5,269.5 276.5,284.4 277,278.5 277,268.8 277.5,268.7 277.5,277.7 278,274.6 278,268.9 278.5,268.6 278.5,281.2 279,272.1 279,269.3 279.5,268.4 279.5,282.2 280,281.9 280,269.1 280.5,270.2 280.5,280 281,279.4 281,269.3 281.5,269.6 281.5,278.7 282,273.2 282,271.9 282.5,269.2 282.5,281.5 283,280.7 283,272 283.5,271.9 283.5,272.6 284,272.3 284,271.4 284.5,272 284.5,273.7 285,273.1 285,270.7 285.5,269.9 285.5,272.2 286,272.9 286,272.9 286.5,271.7 286.5,272.3 287,272.1 287,271.4 287.5,274.3 287.5,275.5 288,273.2 288,273 288.5,273.4 288.5,276.3 289,273.8 289,273.6 289.5,274.3 289.5,274.3 290,274.8 290,273.9 290.5,275.6 290.5,279 291,275.5 291,274.2 291.5,275.4 291.5,275.4 292,278 292,273.8 292.5,274.9 292.5,276.5 293,274.7 293,274.7 293.5,274.2 293.5,275.3 294,274.5 294,274.3 294.5,276.9 294.5,276.9 295,276.4 295,275.7 295.5,275.5 295.5,283.1 296,285.9 296,278.8 296.5,276.7 296.5,281.8 297,277.5 297,277.5 297.5,277.9 297.5,283.7 298,286.3 298,278.2 298.5,278.8 298.5,281 299,284.8 299,281 299.5,284.6 299.5,292.7 300,292.9 300,287.5 300.5,289.6 300.5,299.2 301,296.8 301,292.8 301.5,293.6 301.5,304.8 302,305.2 302,297.6 302.5,299.9 302.5,306.6 303,305.2 303,300.3 303.5,302.4 303.5,304.8 304,315.7 304,307.9 304.5,307.8 304.5,311.9 305,327.2 305,312.4 305.5,320.3 305.5,327.7 306,326.8 306,324.3 306.5,331 306.5,331 307,331 307,331 307.5,331 307.5,331 308,331 308,331 308.5,331 308.5,331 309,331 309,331 309.5,331 309.5,331 310,331 310,331 310.5,331 310.5,331 311,331 311,331 311.5,331 311.5,331 312,331 312,331 312.5,331 312.5,331 313,331 313,331 313.5,331 313.5,331 314,331 314,331 314.5,331 314.5,331 315,331 315,331 315.5,331 315.5,331 316,331 316,331 316.5,331 316.5,331 317,331 317,331 317.5,331 317.5,331 318,331 318,331 318.5,331 318.5,331 319,331 319,331 319.5,330.1 319.5,330.1 320,330.1 320,330.1 320.5,327.6 320.5,328.1 321,330.6 321,326.6 321.5,326.2 321.5,330.6 322,330.7 322,326.9 322.5,325.5 322.5,325.8 323,328 323,323.4 323.5,324.7 323.5,328.2 324,324.9 324,324.9 324.5,322.5 324.5,327.7 325,322.1 325,322.1 325.5,320.3 325.5,320.3 326,319.6 326,316.9 326.5,314.8 326.5,315.9 327,317.2 327,312.5 327.5,311.1 327.5,316.9 328,311.9 328,309.3 328.5,309.6 328.5,326.3 329,310.7 329,310.7 329.5,309.1 329.5,309.6 330,324.8 330,307.2 330.5,306.6 330.5,307.6 331,316 331,306.9 331.5,306.3 331.5,322.3 332,311 332,305.9 332.5,304.4 332.5,314.5 333,312.2 333,306.2 333.5,304.3 333.5,307.1 334,316.8 334,306 334.5,304.4 334.5,311.3 335,303.6 335,302.8 335.5,301.5 335.5,307.3 336,306.5 336,304.5 336.5,302.8 336.5,306 337,301.8 337,300.9 337.5,298.2 337.5,301.8 338,298.1 338,297.9 338.5,296.3 338.5,298 339,294.1 339,293 339.5,294.3 339.5,296.6 340,295.2 340,293.4 340.5,295 340.5,295 341,295 341,295 341.5,293.8 341.5,296.3 342,295.9 342,295.9 342.5,295.2 342.5,296.6 343,295.6 343,295.3 343.5,294.1 343.5,294.1 344,297.6 344,296.8 344.5,295.9 344.5,297.6 345,294.7 345,294.7 345.5,295.8 345.5,296.4 346,298.7 346,296.5 346.5,295.6 346.5,296.4 347,299.2 347,297.2 347.5,296.7 347.5,298 348,299.9 348,298.5 348.5,295.3 348.5,300.5 349,298.4 349,295.6 349.5,297.2 349.5,301 350,296.4 350,296.4 350.5,299.8 350.5,299.8 351,298.6 351,297.7 351.5,297.2 351.5,297.2 352,298.5 352,298.5 352.5,298.5 352.5,302.6 353,301 353,301 353.5,298.2 353.5,298.2 354,299.6 354,299.6 354.5,298 354.5,302.8 355,302.8 355,299.8 355.5,298.6 355.5,299.1 356,302.1 356,300.3 356.5,298.9 356.5,301.2 357,301.4 357,300.6 357.5,299.8 357.5,301.3 358,299.7 358,299.4 358.5,299.5 358.5,303.6 359,302.9 359,300.2 359.5,300 359.5,304.1 360,303.9 360,300 360.5,301.9 360.5,304.5 361,303.7 361,303.7 361.5,300.5 361.5,301.6 362,304.7 362,300.7 362.5,301.1 362.5,303.9 363,304.6 363,304.6 363.5,305 363.5,305 364,305.8 364,302.4 364.5,301.9 364.5,303.9 365,304 365,302.8 365.5,302.5 365.5,306.1 366,305.8 366,305.8 366.5,303.6 366.5,306.3 367,305.8 367,305.8 367.5,305.7 367.5,305.7 368,303.6 368,302.6 368.5,303.7 368.5,304.8 369,306.5 369,306.5 369.5,305.1 369.5,305.1 370,307.5 370,303.3 370.5,306.7 370.5,306.7 371,306.6 371,306.6 371.5,305.8 371.5,307.6 372,305.8 372,305.8 372.5,303.8 372.5,305.9 373,305.9 373,305.9 373.5,306 373.5,306 374,306.4 374,304.9 374.5,305.9 374.5,307.5 375,305.8 375,305.1 375.5,307.3 375.5,307.3 376,307.6 376,305.1 376.5,306 376.5,307.6 377,309.5 377,309 377.5,308.4 377.5,309.6 378,308.7 378,308.7 378.5,309.7 378.5,309.7 379,308.5 379,306.9 379.5,307 379.5,309.2 380,308.8 380,308.8 380.5,310 380.5,310 381,309.2 381,309.2 381.5,311.6 381.5,311.6 382,311.5 382,309.4 382.5,309.4 382.5,312.3 383,309.2 383,309.1 383.5,309.4 383.5,311.9 384,312.4 384,311.8 384.5,312.7 384.5,314.2 385,312.6 385,312.6 385.5,313.6 385.5,315.6 386,316.8 386,316.8 386.5,314.8 386.5,318.3 387,319.1 387,319.1 387.5,318.1 387.5,318.1 388,318.9 388,318.9 388.5,320.5 388.5,320.5 389,321.3 389,321.3 389.5,322.3 389.5,324.7 390,325.9 390,323.7 390.5,325.6 390.5,325.6 391,327.1 391,325.5 391.5,328.3 391.5,328.3 392,329.7 392,329.7 392.5,330.2 392.5,330.3 393,331 393,331 393.5,331 393.5,331 394,331 394,331" stroke="#ff0000"/>
<path d="M393,330.3 394,331.2 395,331.1 396,331 397,330.8 398,330.8 399,330.7 400,331.1 401,331 402,330.9 403,331.2 404,331.1 405,331.3 406,331.2 407,331 408,330.9 409,331 410,331.1 411,331.1 412,330.8 413,331.2 414,330.8 415,330.7 416,331 417,330.9 418,330.9 419,330.5 420,329.4 421,329 422,328.3 423,327.4 424,325.7 425,322.7 426,319.9 427,320.2 428,320.9 429,323 430,327.3 431,327.8 432,326.6 433,324.7 434,322.7 435,320.8 436,318.3 437,318.9 438,320 439,321 440,322.5 441,322 442,321.3 443,320.2 444,319.3 445,318.9 446,318.3 447,318.2 448,318.1 449,317.9 450,318.1 451,318.5 452,318.7 453,318.5 454,318.4 455,318.7 456,318.9 457,318.8 458,318.7 459,318.9 460,318.9 461,319.2 462,319.4 463,319.5 464,319.5 465,319.4 466,319.4 467,320 468,320 469,320 470,319.9 471,320 472,320.1 473,320.3 474,320.4 475,320.4 476,320.4 477,320.7 478,320.9 479,321 480,321.2 481,321.5 482,321.6 483,321.8 484,321.3 485,321.6 486,321.6 487,321.7 488,322 489,322 490,322.5 491,322.2 492,322.8 493,322.3 494,322.5M494,323.2 494.7,323.8 495.4,323.6 496.1,325.1 496.8,324.9 497.5,324.9 498.2,325.7 498.9,325.4 499.6,325.8 500.3,325.7 501,324.2 501.7,325.7 502.4,324.8 503.1,324.2 503.8,324.7 504.5,324.5 505.2,324.3 505.9,325.5 506.6,326.3 507.3,326.4 508,326.7 508.7,327 509.4,326.1 510.1,325.5 510.8,326.7 511.5,325.9 512.2,326.7 512.9,327.9 513.6,326.9 514.3,327.2 515,327 515.7,325.5 516.4,325.8 517.1,325.4 517.8,326.1 518.5,327.7 519.2,328.7 519.9,328.3 520.6,329.1 521.3,329 522,330.6M522,330.6 523,331.1 524,330.9 525,331 526,331.1 527,331.1 528,330.9 529,331 530,331.1 531,331 532,331.1 533,331.1 534,331 535,331 536,331 537,330.9 538,331 539,331.1 540,331 541,331 542,331.1 543,331.1 544,331.1 545,331 546,331 547,331.1 548,331 549,330.9 550,331 551,330.9 552,331 553,331 554,331 555,331 556,331 557,331 558,331 559,330.9 560,331 561,331 562,330.9 563,331 564,330.9 565,331 566,330.9 567,331.1 568,331 569,330.9 570,331 571,331.1 572,331.1 573,331.1 574,330.9 575,331.1 576,331 577,330.9 578,331 579,331.1 580,331 581,330.3 582,330.2 583,330.2 584,330.1 585,330.2 586,330.2 587,330.1 588,330.1 589,330.1 590,330.2 591,330.3 592,330.2 593,330.3 594,330.1 595,330.1 596,330.2 597,330.2 598,330.1 599,330.1 600,330.2 601,330.3 602,330.2 603,330.2 604,330.2 605,330.3 606,330.3 607,330.2 608,330.2 609,330.2 610,330.3 611,330.2 612,330.2 613,330.3 614,330.2 615,330.3 616,330.1 617,330.1 618,330.2 619,330.1" stroke="#8a2028"/>
<path d="M241.5,235.5V242.7M247.5,241.8V248M329.5,307.1V327M345.5,293.8V304M352.5,296.6V305M362.5,300.6V307M371.5,303.3V309M332.5,303.8V322M349.5,295.6V302M291.5,273.6V282M298.5,277.2V300M126.5,211.2V315M132.5,184.1V244M143.5,139.7V180M149.5,137V180M175.5,151.9V183.5M180.5,158.7V209M187.5,167.7V214M195.5,179.9V311M206.5,198.1V245M207.5,199.6V236M212.5,206V222M215.5,208.7V220M220.5,219.4V260M223.5,235.6V260M228.5,278.3V312M290.5,273.6V298.3M325.5,318.5V329M332.5,304.3V328M165.5,145.8V158.6M167.5,146.1V152.9M169.5,147.4V176.8M171.5,148.9V161M174.5,151.2V169.4M178.5,155.3V171.4M180.5,158.7V180.3M182.5,161.5V199.7M185.5,165V177.3M188.5,169.7V176.1M191.5,174.4V209.3M194.5,178V219.2M196.5,182.2V212.5M199.5,187V199.8M201.5,190.8V195.8M203.5,194.1V238.4M206.5,198.8V213.8M210.5,203.7V224.9M214.5,207.6V218.9M216.5,209.7V249.2M218.5,211.6V242.9M236.5,233.3V262.5M239.5,234.4V251.2M241.5,236V241M244.5,238.6V261.1M245.5,240.5V250.8M247.5,242.4V250.4M249.5,244.1V252.5M251.5,247.2V253.6M255.5,251.3V256.5M257.5,254.7V261.9M259.5,261V281.4M272.5,266.2V280.6M275.5,267.2V272.7M279.5,268.1V280.2M282.5,268.8V281.2M285.5,269.4V274.7M287.5,271.2V277M289.5,273.2V278.7M291.5,273.6V285M294.5,274.3V291.3M298.5,277.3V282.7" stroke="#b01818"/>
<path d="M104.8,331 104.8,331 105.3,331 105.3,331 105.8,331 105.8,331 106.3,331 106.3,331 106.8,331 106.8,331 107.3,331 107.3,331 107.8,330.7 107.8,330.7 108.3,331 108.3,331 108.8,329.4 108.8,329.6 109.3,329.3 109.3,329.3 109.8,327.9 109.8,327.9 110.3,325.5 110.3,325.4 110.8,323 110.8,323.2 111.3,317.9 111.3,317.1 111.8,314.6 111.8,314.6 112.3,309.9 112.3,309 112.8,306.9 112.8,312.2 113.3,306.2 113.3,306.2 113.8,305 113.8,310.3 114.3,304.1 114.3,302.5 114.8,304 114.8,308.6 115.3,307.8 115.3,301.1 115.8,300.9 115.8,310.9 116.3,302.6 116.3,301.7 116.8,302.4 116.8,302.4 117.3,300.3 117.3,300.3 117.8,301.6 117.8,302.1 118.3,301.4 118.3,300.6 118.8,300.1 118.8,309.2 119.3,306.6 119.3,300 119.8,299.5 119.8,306.2 120.3,300.4 120.3,299.6 120.8,298.8 120.8,302.8 121.3,310.7 121.3,299.6 121.8,296.2 121.8,300.4 122.3,306.3 122.3,298.4 122.8,295.2 122.8,307.5 123.3,303.9 123.3,298.4 123.8,296.1 123.8,305.4 124.3,300.9 124.3,297.5 124.8,295 124.8,299.2 125.3,303.1 125.3,295.6 125.8,293.8 125.8,301.6 126.3,300.1 126.3,292.2 126.8,295.2 126.8,303.6 127.3,307.3 127.3,292.5 127.8,293.3 127.8,298.3 128.3,296.5 128.3,292.3 128.8,293.8 128.8,297.9 129.3,298.3 129.3,296.7 129.8,295.1 129.8,301.3 130.3,298.4 130.3,298 130.8,298.1 130.8,298.7 131.3,299.7 131.3,297.5 131.8,298.5 131.8,300.1 132.3,300.1 132.3,296.9 132.8,296.2 132.8,297.2 133.3,297.8 133.3,297.8 133.8,297.1 133.8,297.1 134.3,297.3 134.3,297.3 134.8,294.8 134.8,298.2 135.3,295.4 135.3,295.4 135.8,294.4 135.8,294.4 136.3,295.8 136.3,293.9 136.8,293.8 136.8,293.9 137.3,295.6 137.3,295.5 137.8,295.7 137.8,297 138.3,295.6 138.3,295.6 138.8,296.7 138.8,296.7 139.3,296.3 139.3,296.3 139.8,298.6 139.8,298.6 140.3,298.8 140.3,298.8 140.8,299.1 140.8,299.1 141.3,300 141.3,298.5 141.8,299.8 141.8,299.8 142.3,298.9 142.3,297.9 142.8,299.3 142.8,299.5 143.3,301.6 143.3,301.6 143.8,299.3 143.8,300.9 144.3,302.2 144.3,302.2 144.8,300.1 144.8,302 145.3,302.6 145.3,301.4 145.8,302.6 145.8,302.6 146.3,302.9 146.3,302.9 146.8,302.9 146.8,302.9 147.3,302 147.3,301.5 147.8,302.9 147.8,302.9 148.3,303.6 148.3,302.8 148.8,303.2 148.8,303.2 149.3,304.6 149.3,303 149.8,303.1 149.8,304.1 150.3,304.1 150.3,304.1 150.8,304.9 150.8,304.9 151.3,305.6 151.3,305.2 151.8,305.4 151.8,305.6 152.3,304.9 152.3,304.9 152.8,305.1 152.8,306.4 153.3,304.7 153.3,304.6 153.8,306.6 153.8,306.6 154.3,307.2 154.3,306.5 154.8,306.5 154.8,307.2 155.3,307.6 155.3,306.7 155.8,306.1 155.8,306.8 156.3,307.8 156.3,307.4 156.8,307.3 156.8,307.7 157.3,308.4 157.3,308.4 157.8,307.3 157.8,307.3 158.3,308.7 158.3,308.7 158.8,308.1 158.8,308.2 159.3,307.8 159.3,307.8 159.8,308.2 159.8,308.2 160.3,309.5 160.3,309.5 160.8,308.3 160.8,309.8 161.3,309.4 161.3,309.4 161.8,309.8 161.8,309.8 162.3,310.2 162.3,310 162.8,309.8 162.8,309.8 163.3,310.6 163.3,310.6 163.8,310.7 163.8,310.7 164.3,310.8 164.3,310.4 164.8,310.6 164.8,310.8 165.3,311.3 165.3,311 165.8,310.9 165.8,311 166.3,311.8 166.3,311.8 166.8,310.8 166.8,311.5 167.3,312.1 167.3,310.9 167.8,311.3 167.8,312.3 168.3,311.9 168.3,311.9 168.8,312 168.8,312.1 169.3,312.1 169.3,312 169.8,312 169.8,312.8 170.3,312.7 170.3,311.7 170.8,311.4 170.8,312.2 171.3,311.7 171.3,311.7 171.8,312.8 171.8,313.2 172.3,312.5 172.3,312.5 172.8,312.9 172.8,312.9 173.3,312.8 173.3,312.8 173.8,313.7 173.8,313.7 174.3,313.6 174.3,313 174.8,314.1 174.8,314.1 175.3,312.9 175.3,312.5 175.8,314.2 175.8,314.2 176.3,314 176.3,313.2 176.8,313.2 176.8,314.2 177.3,313.6 177.3,313.5 177.8,314.3 177.8,314.3 178.3,314.7 178.3,314.7 178.8,314.8 178.8,314.8 179.3,314.6 179.3,313.7 179.8,315 179.8,315" stroke="#00bfbf"/>
<path d="M179,313.5 179.7,313.1 180.4,313.2 181.1,313.2 181.8,313.4 182.5,314 183.2,313.9 183.9,315.8 184.6,314.6 185.3,314.3 186,317.1 186.7,316.3 187.4,315.3 188.1,315.8 188.8,316.8 189.5,317.4 190.2,317.2 190.9,317.4 191.6,317.5 192.3,317.5 193,316.9 193.7,318.3 194.4,317.7 195.1,317.2 195.8,318.1 196.5,319.3 197.2,317.6 197.9,318 198.6,318.3 199.3,318 200,319.3 200.7,318.1 201.4,318 202.1,318 202.8,318.4 203.5,321.6 204.2,319.3 204.9,319.3 205.6,319.4 206.3,319.4 207,319.7 207.7,320.5 208.4,321.1 209.1,320.6 209.8,320.7 210.5,321.3 211.2,321 211.9,321.1 212.6,322.5 213.3,321.2 214,322.1 214.7,323.5 215.4,323.9 216.1,321.9 216.8,322.6 217.5,322.2 218.2,323.6 218.9,322.7 219.6,322.8 220.3,323.4 221,323.6 221.7,324.1 222.4,324.4 223.1,325.2 223.8,325.4 224.5,325.2 225.2,325.7 225.9,326 226.6,326.4 227.3,327.2 228,328.5 228.7,329.4 229.4,327.2 230.1,326.7 230.8,327 231.5,326.1 232.2,327 232.9,325.8 233.6,326.8 234.3,325.3 235,325.3 235.7,324.8 236.4,324.9 237.1,326.5 237.8,324.8 238.5,325.2 239.2,324.7 239.9,324.3 240.6,325.5 241.3,325 242,324.5 242.7,325.1 243.4,326.5 244.1,325.5 244.8,324.6 245.5,325.5 246.2,325.3 246.9,324.9 247.6,325.3 248.3,325.1 249,325.2 249.7,327.2 250.4,325.2 251.1,325.8 251.8,325.9 252.5,326.2 253.2,327.5 253.9,325.8 254.6,325.9 255.3,326.6 256,327.2 256.7,327 257.4,326.6 258.1,326.2 258.8,326.7 259.5,327.4 260.2,327.2 260.9,327.8 261.6,327.6 262.3,328.5 263,328.7 263.7,329.1 264.4,329.6 265.1,329.9 265.8,329 266.5,329.5 267.2,329.5 267.9,329 268.6,328.3 269.3,328.2 270,328.4 270.7,329 271.4,328.3 272.1,327.8 272.8,327.7 273.5,327.5 274.2,329.6 274.9,327.9 275.6,329.3 276.3,328 277,327.2 277.7,327.9 278.4,327.3 279.1,327.3 279.8,328.2 280.5,328.1 281.2,327.8 281.9,327.9 282.6,328.3 283.3,327.8 284,327.6 284.7,328 285.4,328.1 286.1,327.7 286.8,330.1 287.5,327.6 288.2,328.4 288.9,328.4 289.6,328.8 290.3,328.2 291,330.7 291.7,328.2 292.4,327.7 293.1,328.1 293.8,328.3 294.5,328.4 295.2,328 295.9,328.4 296.6,328.7 297.3,328.5 298,328.2 298.7,328.4 299.4,330.5M300,328.5 301,328.8 302,329 303,329.1 304,329.4 305,329.6 306,329.8 307,330.1 308,330.1 309,330.1 310,330 311,329.9 312,330 313,330 314,329.9 315,330 316,330 317,329.9 318,329.9 319,330.1 320,330 321,330 322,330 323,329.9 324,330 325,330 326,330 327,330 328,330 329,329.9 330,329.9 331,329.9 332,329.5 333,329.5 334,329.1 335,329 336,329.1 337,329.2 338,329.3 339,329.3 340,329.4 341,329.5 342,329.6 343,329.7 344,329.7 345,329.8 346,330 347,329.9 348,330.1 349,330.2 350,330.3 351,330.3 352,330.3 353,330.3 354,330.2 355,330.3 356,330.3 357,330.4 358,330.2 359,330.3 360,330.4 361,330.4 362,330.3 363,330.3 364,330.3 365,330.4 366,330.3 367,330.2 368,330.4 369,330.3 370,330.2 371,330.3 372,330.3 373,330.4 374,330.3 375,330.2 376,330.3 377,330.3 378,330.4 379,330.4 380,330.3 381,330.4 382,330.2 383,330.4 384,330.4 385,330.2 386,330.4 387,330.3 388,330.3 389,330.4 390,330.3 391,330.4 392,330.4 393,330.3 394,330.3 395,330.3 396,330.4 397,330.3 398,330.3 399,330.4 400,330.3 401,330.4 402,330.3 403,330.3 404,330.3 405,330.4 406,330.3 407,330.3 408,330.3 409,330.4 410,330.3 411,330.4 412,330.4 413,330.5 414,330.4 415,330.3 416,330.4 417,330.4 418,330.4 419,330.3 420,330.3 421,330.3 422,330.4 423,330.4 424,330.5 425,330.3 426,330.3 427,330.3 428,330.4 429,330.4 430,330.5 431,330.5 432,330.4 433,330.3 434,330.5 435,330.5 436,330.4 437,330.5 438,330.4 439,330.4 440,330.5 441,330.3 442,330.4 443,330.5 444,330.5 445,330.3 446,330.5 447,330.3 448,330.5 449,330.5 450,330.3 451,330.4 452,330.4 453,330.4 454,330.4 455,330.5 456,330.5 457,330.3 458,330.4 459,330.4 460,330.5 461,330.4 462,330.5 463,330.4 464,330.5 465,330.5 466,330.5 467,330.4 468,330.5 469,330.5 470,330.4 471,330.5 472,330.4 473,330.4 474,330.4 475,330.4 476,330.4 477,330.4 478,330.5 479,330.4 480,330.4 481,330.4 482,330.3 483,330.5 484,330.5 485,330.5 486,330.5 487,330.5 488,330.5 489,330.4 490,330.5 491,330.4 492,330.5 493,330.5 494,330.5 495,330.4 496,330.4 497,330.6 498,330.4 499,330.4 500,330.5 501,330.4 502,330.5 503,330.5 504,330.5 505,330.4 506,330.5 507,330.4 508,330.4 509,330.5 510,330.5 511,330.4 512,330.5 513,330.5 514,330.6 515,330.4 516,330.4 517,330.6 518,330.4 519,330.5 520,330.5 521,330.5 522,330.4 523,330.5 524,330.5 525,330.6 526,330.5 527,330.5 528,330.5 529,330.4 530,330.6 531,330.4 532,330.5 533,330.4 534,330.6 535,330.4 536,330.4 537,330.6 538,330.8 539,331.1 540,331.6M195.3,317.5V329M181.7,314V320M206.3,320V325" stroke="#2a9a90" stroke-width="1.4"/>
<path d="M124.5,293.2V316.7M132.5,294.4V310M119.5,297.6V313M143.5,298.4V305M150.5,302.5V310" stroke="#2a9a90"/>
</g>
<rect x="89.5" y="28.5" width="530" height="303" fill="none" stroke="#000" stroke-width="1"/>
<path d="M145.5,331V326M145.5,28V33M240.5,331V326M240.5,28V33M335.5,331V326M335.5,28V33M429.5,331V326M429.5,28V33M524.5,331V326M524.5,28V33M89,262.5H94M619,262.5H614M89,193.5H94M619,193.5H614M89,124.5H94M619,124.5H614M89,56.5H94M619,56.5H614" stroke="#000" stroke-width="1" fill="none"/>
<text transform="translate(352.70,15.00) scale(1.0190,1)" text-anchor="middle" style="font-family:'Liberation Sans',sans-serif;font-size:13px" fill="#000" stroke="#000" stroke-width="0">ASTM G173 AM1.5 Spectra</text>
<text transform="translate(146.29,351.50)" text-anchor="middle" style="font-family:'Liberation Sans',sans-serif;font-size:19.2px" fill="#000" stroke="#000" stroke-width="0.3">500</text>
<text transform="translate(240.93,351.50)" text-anchor="middle" style="font-family:'Liberation Sans',sans-serif;font-size:19.2px" fill="#000" stroke="#000" stroke-width="0.3">1000</text>
<text transform="translate(335.57,351.50)" text-anchor="middle" style="font-family:'Liberation Sans',sans-serif;font-size:19.2px" fill="#000" stroke="#000" stroke-width="0.3">1500</text>
<text transform="translate(430.21,351.50)" text-anchor="middle" style="font-family:'Liberation Sans',sans-serif;font-size:19.2px" fill="#000" stroke="#000" stroke-width="0.3">2000</text>
<text transform="translate(524.86,351.50)" text-anchor="middle" style="font-family:'Liberation Sans',sans-serif;font-size:19.2px" fill="#000" stroke="#000" stroke-width="0.3">2500</text>
<text transform="translate(619.50,351.50)" text-anchor="middle" style="font-family:'Liberation Sans',sans-serif;font-size:19.2px" fill="#000" stroke="#000" stroke-width="0.3">3000</text>
<text transform="translate(84.50,338.00)" text-anchor="end" style="font-family:'Liberation Sans',sans-serif;font-size:19.2px" fill="#000" stroke="#000" stroke-width="0.3">0</text>
<text transform="translate(84.50,269.14)" text-anchor="end" style="font-family:'Liberation Sans',sans-serif;font-size:19.2px" fill="#000" stroke="#000" stroke-width="0.3">0.5</text>
<text transform="translate(84.50,200.27)" text-anchor="end" style="font-family:'Liberation Sans',sans-serif;font-size:19.2px" fill="#000" stroke="#000" stroke-width="0.3">1</text>
<text transform="translate(84.50,131.41)" text-anchor="end" style="font-family:'Liberation Sans',sans-serif;font-size:19.2px" fill="#000" stroke="#000" stroke-width="0.3">1.5</text>
<text transform="translate(84.50,62.55)" text-anchor="end" style="font-family:'Liberation Sans',sans-serif;font-size:19.2px" fill="#000" stroke="#000" stroke-width="0.3">2</text>
<text transform="translate(353.00,373.50) scale(0.9920,1)" text-anchor="middle" style="font-family:'Liberation Sans',sans-serif;font-size:19px" fill="#000" stroke="#000" stroke-width="0.3">Wavelenth (nm)</text>
<text transform="translate(46.70,179.20) rotate(-90) scale(1.0040,1)" text-anchor="middle" style="font-family:'Liberation Sans',sans-serif;font-size:19px" fill="#000" stroke="#000" stroke-width="0.3">Specific Irradiance (W/m<tspan dy="-9" style="font-size:14px">2</tspan><tspan dy="9">/nm)</tspan></text>
<rect x="240.5" y="29.5" width="378" height="109" fill="#fff" stroke="#000" stroke-width="1"/>
<path d="M248,43.5H289" stroke="#1c1458" stroke-width="1"/>
<text transform="translate(291.50,51.00) scale(0.9920,1)" text-anchor="start" style="font-family:'Liberation Sans',sans-serif;font-size:19px" fill="#000" stroke="#000" stroke-width="0.3">AM0 Extraterrestrial Irradiance</text>
<path d="M248,71.5H289" stroke="#286040" stroke-width="1"/>
<text transform="translate(291.50,81.00) scale(0.9950,1)" text-anchor="start" style="font-family:'Liberation Sans',sans-serif;font-size:19px" fill="#000" stroke="#000" stroke-width="0.3">AM15G Global Irradiation at 37<tspan dy="-9.2" dx="1.2" style="font-size:11.5px" stroke-width="0">0</tspan><tspan dy="9.2" dx="1"> tilt</tspan></text>
<path d="M248,98.5H289" stroke="#8c3040" stroke-width="1"/>
<text transform="translate(291.50,105.50)" text-anchor="start" style="font-family:'Liberation Sans',sans-serif;font-size:19px" fill="#000" stroke="#000" stroke-width="0.3">AM15G Direct + circumsolar Irradiaion</text>
<path d="M248,123.5H289" stroke="#40a098" stroke-width="1"/>
<text transform="translate(291.50,130.50) scale(1.0160,1)" text-anchor="start" style="font-family:'Liberation Sans',sans-serif;font-size:19px" fill="#000" stroke="#000" stroke-width="0.3">AM15G Diffuse Irradiaion</text>
</svg></body></html>
